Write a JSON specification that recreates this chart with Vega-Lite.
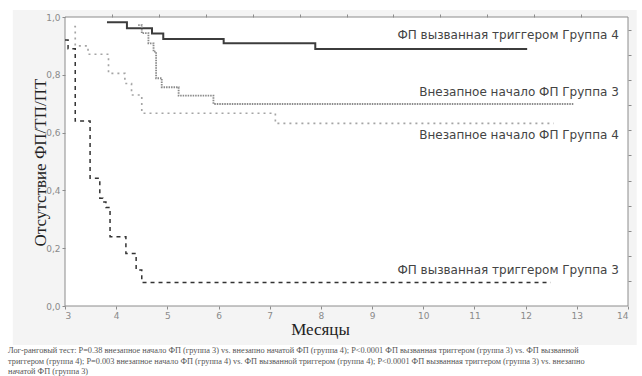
{
  "$schema": "https://vega.github.io/schema/vega-lite/v6.json",
  "width": 563,
  "height": 289,
  "autosize": {"type": "none"},
  "padding": {"left": 65, "top": 17, "right": 14, "bottom": 70},
  "background": "white",
  "config": {"view": {"stroke": null}, "font": "DejaVu Sans"},
  "title": {
    "text": [
      "Лог-ранговый тест:  P=0.38 внезапное начало ФП (группа 3) vs. внезапно начатой ФП (группа 4); P<0.0001 ФП вызванная триггером (группа 3) vs. ФП вызванной",
      "триггером (группа 4); P=0.003 внезапное начало ФП (группа 4) vs. ФП вызванной триггером (группа 4); P<0.0001 ФП вызванная триггером (группа 3) vs. внезапно",
      "начатой ФП (группа 3)"
    ],
    "orient": "bottom",
    "anchor": "start",
    "frame": "group",
    "dx": -57,
    "offset": 1,
    "font": "Liberation Serif",
    "fontSize": 8.3,
    "fontWeight": "normal",
    "color": "#555555",
    "lineHeight": 10.5
  },
  "datasets": {
    "curves": [
      {"series": "ФП вызванная триггером Группа 4", "month": 3.82, "surv": 0.982},
      {"series": "ФП вызванная триггером Группа 4", "month": 4.21, "surv": 0.961},
      {"series": "ФП вызванная триггером Группа 4", "month": 4.70, "surv": 0.943},
      {"series": "ФП вызванная триггером Группа 4", "month": 4.92, "surv": 0.924},
      {"series": "ФП вызванная триггером Группа 4", "month": 6.10, "surv": 0.909},
      {"series": "ФП вызванная триггером Группа 4", "month": 7.89, "surv": 0.889},
      {"series": "ФП вызванная триггером Группа 4", "month": 12.03, "surv": 0.889},

      {"series": "Внезапное начало ФП Группа 3", "month": 4.43, "surv": 0.972},
      {"series": "Внезапное начало ФП Группа 3", "month": 4.50, "surv": 0.944},
      {"series": "Внезапное начало ФП Группа 3", "month": 4.63, "surv": 0.909},
      {"series": "Внезапное начало ФП Группа 3", "month": 4.73, "surv": 0.880},
      {"series": "Внезапное начало ФП Группа 3", "month": 4.78, "surv": 0.788},
      {"series": "Внезапное начало ФП Группа 3", "month": 4.89, "surv": 0.757},
      {"series": "Внезапное начало ФП Группа 3", "month": 5.22, "surv": 0.728},
      {"series": "Внезапное начало ФП Группа 3", "month": 5.90, "surv": 0.699},
      {"series": "Внезапное начало ФП Группа 3", "month": 12.94, "surv": 0.699},

      {"series": "Внезапное начало ФП Группа 4", "month": 3.18, "surv": 0.967},
      {"series": "Внезапное начало ФП Группа 4", "month": 3.20, "surv": 0.900},
      {"series": "Внезапное начало ФП Группа 4", "month": 3.45, "surv": 0.871},
      {"series": "Внезапное начало ФП Группа 4", "month": 3.85, "surv": 0.805},
      {"series": "Внезапное начало ФП Группа 4", "month": 4.17, "surv": 0.770},
      {"series": "Внезапное начало ФП Группа 4", "month": 4.30, "surv": 0.730},
      {"series": "Внезапное начало ФП Группа 4", "month": 4.50, "surv": 0.667},
      {"series": "Внезапное начало ФП Группа 4", "month": 7.11, "surv": 0.632},
      {"series": "Внезапное начало ФП Группа 4", "month": 12.55, "surv": 0.632},

      {"series": "ФП вызванная триггером Группа 3", "month": 3.00, "surv": 0.920},
      {"series": "ФП вызванная триггером Группа 3", "month": 3.06, "surv": 0.890},
      {"series": "ФП вызванная триггером Группа 3", "month": 3.20, "surv": 0.640},
      {"series": "ФП вызванная триггером Группа 3", "month": 3.49, "surv": 0.442},
      {"series": "ФП вызванная триггером Группа 3", "month": 3.68, "surv": 0.373},
      {"series": "ФП вызванная триггером Группа 3", "month": 3.74, "surv": 0.360},
      {"series": "ФП вызванная триггером Группа 3", "month": 3.80, "surv": 0.341},
      {"series": "ФП вызванная триггером Группа 3", "month": 3.88, "surv": 0.240},
      {"series": "ФП вызванная триггером Группа 3", "month": 4.19, "surv": 0.182},
      {"series": "ФП вызванная триггером Группа 3", "month": 4.39, "surv": 0.125},
      {"series": "ФП вызванная триггером Группа 3", "month": 4.50, "surv": 0.081},
      {"series": "ФП вызванная триггером Группа 3", "month": 12.49, "surv": 0.081}
    ],
    "curveLabels": [
      {"label": "ФП вызванная триггером Группа 4", "month": 13.82, "surv": 0.938},
      {"label": "Внезапное начало ФП Группа 3", "month": 13.82, "surv": 0.740},
      {"label": "Внезапное начало ФП Группа 4", "month": 13.82, "surv": 0.592},
      {"label": "ФП вызванная триггером Группа 3", "month": 13.82, "surv": 0.125}
    ]
  },
  "layer": [
    {
      "layer": [
        {
          "data": {"values": [{}]},
          "mark": {"type": "rect", "fill": "#f4f4f4", "stroke": null},
          "encoding": {
            "x": {"datum": 1.98, "type": "quantitative", "title": "Месяцы"},
            "x2": {"datum": 14.17},
            "y": {"datum": -0.135, "type": "quantitative", "title": "Отсутствие ФП/ТП/ПТ"},
            "y2": {"datum": 1.024}
          }
        },
        {
          "data": {"values": [{}]},
          "mark": {"type": "rect", "fill": "white", "stroke": "#8c8c8c", "strokeWidth": 1},
          "encoding": {
            "x": {"datum": 3, "type": "quantitative", "title": "Месяцы"},
            "x2": {"datum": 14},
            "y": {"datum": 0, "type": "quantitative", "title": "Отсутствие ФП/ТП/ПТ"},
            "y2": {"datum": 1}
          }
        },
        {
          "data": {"name": "curves"},
          "mark": {"type": "line", "interpolate": "step-after"},
          "encoding": {
            "x": {
              "field": "month",
              "type": "quantitative",
              "title": "Месяцы",
              "scale": {"domain": [3, 14], "nice": false, "zero": false},
              "axis": {
                "values": [3, 4, 5, 6, 7, 8, 9, 10, 11, 12, 13, 14],
                "format": "d",
                "domain": false,
                "grid": false,
                "tickSize": 3,
                "tickColor": "#8c8c8c",
                "labelColor": "#8a8a8a",
                "labelFont": "DejaVu Sans",
                "labelFontSize": 9,
                "labelPadding": 2,
                "titleFont": "Liberation Serif",
                "titleFontSize": 17,
                "titleFontWeight": "normal",
                "titleColor": "#222222",
                "titleX": 255,
                "titleY": 28,
                "titleAlign": "center",
                "titleBaseline": "alphabetic",
                "zindex": 1
              }
            },
            "y": {
              "field": "surv",
              "type": "quantitative",
              "title": "Отсутствие ФП/ТП/ПТ",
              "scale": {"domain": [0, 1], "nice": false},
              "axis": {
                "values": [0, 0.2, 0.4, 0.6, 0.8, 1],
                "labelExpr": "replace(format(datum.value, '.1f'), '.', ',')",
                "domain": false,
                "grid": false,
                "tickSize": 3,
                "tickColor": "#8c8c8c",
                "labelColor": "#8a8a8a",
                "labelFont": "DejaVu Sans",
                "labelFontSize": 9,
                "labelPadding": 2,
                "titleFont": "Liberation Serif",
                "titleFontSize": 17,
                "titleFontWeight": "normal",
                "titleColor": "#222222",
                "titleAngle": -90,
                "titleX": -25,
                "titleY": 145,
                "titleAlign": "center",
                "titleBaseline": "middle",
                "zindex": 1
              }
            },
            "color": {
              "field": "series",
              "type": "nominal",
              "scale": {
                "domain": ["ФП вызванная триггером Группа 4", "Внезапное начало ФП Группа 3", "Внезапное начало ФП Группа 4", "ФП вызванная триггером Группа 3"],
                "range": ["#3c3c3c", "#8a8a8a", "#a5a5a5", "#333333"]
              },
              "legend": null
            },
            "strokeDash": {
              "field": "series",
              "type": "nominal",
              "scale": {
                "domain": ["ФП вызванная триггером Группа 4", "Внезапное начало ФП Группа 3", "Внезапное начало ФП Группа 4", "ФП вызванная триггером Группа 3"],
                "range": [[1, 0], [1.5, 1], [2, 4], [4, 4]]
              },
              "legend": null
            },
            "strokeWidth": {
              "field": "series",
              "type": "ordinal",
              "scale": {
                "domain": ["ФП вызванная триггером Группа 4", "Внезапное начало ФП Группа 3", "Внезапное начало ФП Группа 4", "ФП вызванная триггером Группа 3"],
                "range": [2, 1.5, 1.5, 2]
              },
              "legend": null
            }
          }
        },
        {
          "data": {"name": "curveLabels"},
          "mark": {"type": "text", "align": "right", "baseline": "middle", "font": "DejaVu Sans", "fontSize": 12, "color": "#444444"},
          "encoding": {
            "x": {"field": "month", "type": "quantitative", "title": "Месяцы"},
            "y": {"field": "surv", "type": "quantitative", "title": "Отсутствие ФП/ТП/ПТ"},
            "text": {"field": "label"}
          }
        }
      ]
    },
    {
      "data": {"values": [{}]},
      "mark": {"type": "point", "opacity": 0},
      "encoding": {
        "x": {
          "datum": 0,
          "type": "quantitative",
          "scale": {"domain": [0, 12], "nice": false},
          "axis": {
            "orient": "top",
            "values": [1, 2, 3, 4, 5, 6, 7, 8, 9, 10, 11],
            "labels": false,
            "domain": false,
            "grid": false,
            "tickSize": 3,
            "tickColor": "#8c8c8c",
            "title": null,
            "zindex": 1
          }
        },
        "y": {
          "datum": 0,
          "type": "quantitative",
          "scale": {"domain": [0, 11.52], "nice": false},
          "axis": {
            "orient": "right",
            "values": [1, 2, 3, 4, 5, 6, 7, 8, 9, 10, 11],
            "labels": false,
            "domain": false,
            "grid": false,
            "tickSize": 3,
            "tickColor": "#8c8c8c",
            "title": null,
            "zindex": 1
          }
        }
      }
    }
  ],
  "resolve": {"scale": {"x": "independent", "y": "independent"}}
}
